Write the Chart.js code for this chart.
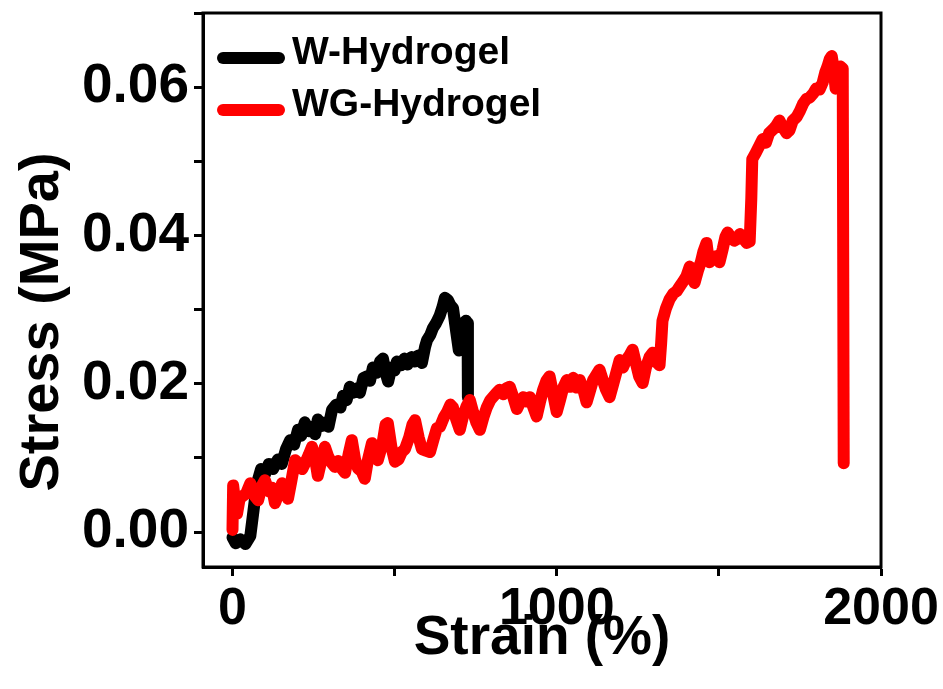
<!DOCTYPE html>
<html>
<head>
<meta charset="utf-8">
<script src="https://cdn.jsdelivr.net/npm/chart.js@4.4.1/dist/chart.umd.min.js"></script>
<style>
  body { margin: 0; background: #fff; }
</style>
</head>
<body>
<canvas id="chart" width="943" height="689"></canvas>
<script>
// W-Hydrogel (black)
const wStrain = [0, 10, 25, 40, 55, 65, 75, 88, 100, 112, 125, 140, 152, 165, 178, 190, 202, 212, 223, 235, 245, 255, 263, 275, 285, 296, 307, 320, 333, 341, 352, 362, 372, 385, 393, 404, 414, 424, 433, 445, 455, 464, 472, 480, 490, 500, 507, 520, 530, 540, 552, 562, 572, 584, 594, 600, 610, 618, 628, 639, 648, 655, 664, 672, 680, 690, 698, 705, 712, 720, 725, 726]
const wStress = [-0.0007, -0.0015, -0.001, -0.0016, -0.0005, 0.003, 0.0065, 0.0085, 0.0078, 0.0092, 0.0085, 0.0098, 0.0092, 0.0112, 0.0124, 0.0118, 0.0138, 0.013, 0.0148, 0.0136, 0.0142, 0.0132, 0.0152, 0.0143, 0.0148, 0.0142, 0.0165, 0.0172, 0.0168, 0.0184, 0.0178, 0.0196, 0.0188, 0.0194, 0.0188, 0.0208, 0.021, 0.0204, 0.0222, 0.0215, 0.023, 0.0234, 0.0215, 0.0203, 0.0222, 0.0218, 0.023, 0.0225, 0.0234, 0.0226, 0.0236, 0.023, 0.0238, 0.0228, 0.025, 0.0259, 0.0266, 0.0275, 0.0282, 0.0292, 0.0304, 0.0316, 0.0313, 0.0306, 0.0302, 0.027, 0.0245, 0.026, 0.0282, 0.0285, 0.0282, 0.0182]

// WG-Hydrogel (red)
const wgStrain = [0, 2, 8, 14, 22, 30, 42, 55, 66, 79, 90, 100, 112, 122, 131, 142, 153, 162, 171, 182, 193, 205, 215, 223, 235, 245, 255, 263, 275, 285, 295, 305, 316, 326, 336, 347, 358, 368, 378, 387, 398, 408, 418, 430, 440, 448, 462, 472, 479, 490, 501, 512, 522, 532, 545, 555, 563, 574, 584, 596, 609, 620, 630, 640, 652, 662, 672, 680, 690, 701, 712, 722, 732, 742, 752, 763, 774, 784, 795, 805, 815, 824, 835, 845, 855, 866, 877, 887, 897, 907, 917, 928, 938, 948, 958, 968, 978, 988, 1000, 1010, 1020, 1031, 1041, 1051, 1061, 1071, 1082, 1092, 1102, 1112, 1122, 1132, 1142, 1152, 1163, 1173, 1183, 1194, 1204, 1214, 1224, 1234, 1244, 1254, 1265, 1275, 1286, 1296, 1306, 1317, 1322, 1326, 1337, 1348, 1360, 1370, 1379, 1390, 1400, 1410, 1418, 1425, 1435, 1445, 1452, 1462, 1467, 1471, 1480, 1490, 1502, 1512, 1520, 1527, 1537, 1547, 1555, 1565, 1575, 1586, 1595, 1600, 1603, 1612, 1626, 1635, 1645, 1655, 1667, 1677, 1687, 1697, 1709, 1718, 1728, 1740, 1750, 1760, 1770, 1780, 1792, 1800, 1811, 1820, 1828, 1835, 1842, 1848, 1854, 1860, 1866, 1874, 1882, 1885]
const wgStress = [0.0003, 0.0063, 0.004, 0.0025, 0.0045, 0.0048, 0.0052, 0.0066, 0.005, 0.0043, 0.0062, 0.007, 0.0055, 0.006, 0.0039, 0.0052, 0.0066, 0.0055, 0.0045, 0.007, 0.0097, 0.0092, 0.0085, 0.0092, 0.0104, 0.0115, 0.0098, 0.0076, 0.0098, 0.0115, 0.0102, 0.0094, 0.0088, 0.0096, 0.0086, 0.008, 0.0105, 0.0124, 0.0098, 0.0086, 0.0082, 0.0072, 0.0098, 0.012, 0.0104, 0.0097, 0.0118, 0.0145, 0.0147, 0.0115, 0.0095, 0.0098, 0.0108, 0.0112, 0.0128, 0.0145, 0.0151, 0.0128, 0.0112, 0.011, 0.0108, 0.0125, 0.014, 0.0142, 0.0155, 0.0162, 0.0172, 0.0168, 0.0152, 0.0138, 0.0158, 0.017, 0.0178, 0.0162, 0.0148, 0.0138, 0.0155, 0.0168, 0.0178, 0.0183, 0.0188, 0.0192, 0.0186, 0.0194, 0.0196, 0.0182, 0.0166, 0.0175, 0.0182, 0.0176, 0.0182, 0.0168, 0.0156, 0.0175, 0.0192, 0.0204, 0.021, 0.0188, 0.0162, 0.0178, 0.0195, 0.0205, 0.0196, 0.0208, 0.0195, 0.0205, 0.0192, 0.0175, 0.019, 0.0205, 0.0212, 0.0219, 0.0205, 0.0192, 0.0182, 0.0198, 0.0214, 0.0232, 0.0222, 0.0232, 0.0238, 0.0246, 0.0228, 0.021, 0.0201, 0.0222, 0.0236, 0.0242, 0.023, 0.0225, 0.0255, 0.0285, 0.0302, 0.0314, 0.0322, 0.0325, 0.0331, 0.0338, 0.0345, 0.0358, 0.0345, 0.0336, 0.0352, 0.0365, 0.0378, 0.039, 0.0372, 0.0364, 0.0368, 0.0372, 0.0364, 0.0382, 0.0398, 0.0404, 0.0397, 0.0393, 0.0395, 0.0402, 0.0396, 0.039, 0.0392, 0.045, 0.0503, 0.051, 0.0522, 0.053, 0.0525, 0.0538, 0.0543, 0.0548, 0.0555, 0.0546, 0.0538, 0.0542, 0.0555, 0.056, 0.0568, 0.0578, 0.0584, 0.0586, 0.0592, 0.0598, 0.0597, 0.0606, 0.062, 0.0628, 0.0638, 0.0642, 0.0625, 0.0598, 0.0612, 0.0628, 0.0625, 0.0093]

const xTicks = [0, 500, 1000, 1500, 2000]
const xLabels = ['0', '', '1000', '', '2000']
const yTicks = [0, 0.01, 0.02, 0.03, 0.04, 0.05, 0.06, 0.07]
const yLabels = ['0.00', '', '0.02', '', '0.04', '', '0.06', '']

const seriesNames = ['W-Hydrogel', 'WG-Hydrogel']
const seriesColors = ['#000000', '#ff0000']
const yTitle = 'Stress (MPa)'

const FONT = "'Liberation Sans', Arial, sans-serif"

function toPoints(xs, ys) {
  return xs.map((x, i) => ({ x: x, y: ys[i] }))
}

// frame round the plot area
const framePlugin = {
  id: 'frame',
  afterDatasetsDraw(chart) {
    const a = chart.chartArea
    const c = chart.ctx
    c.save()
    c.strokeStyle = '#000'
    c.lineWidth = 3
    c.strokeRect(a.left, a.top, a.right - a.left, a.bottom - a.top)
    c.restore()
  }
}

// legend inside the plot, top left + rotated y title (sits a bit below centre)
const extras = {
  id: 'extras',
  afterDraw(chart) {
    const c = chart.ctx
    c.save()
    chart.data.datasets.forEach((ds, i) => {
      const y = 58 + i * 52
      c.strokeStyle = ds.borderColor
      c.lineWidth = 12
      c.lineCap = 'round'
      c.beginPath()
      c.moveTo(223, y)
      c.lineTo(279, y)
      c.stroke()
      c.fillStyle = '#000'
      c.font = 'bold 39px ' + FONT
      c.textBaseline = 'middle'
      c.fillText(ds.label, 292, y - 5)
    })
    c.translate(58, 322)
    c.rotate(-Math.PI / 2)
    c.font = 'bold 56px ' + FONT
    c.textAlign = 'center'
    c.textBaseline = 'alphabetic'
    c.fillStyle = '#000'
    c.fillText(yTitle, 0, 0)
    c.restore()
  }
}

const ctx = document.getElementById('chart').getContext('2d')

new Chart(ctx, {
  type: 'line',
  data: {
    datasets: [
      {
        label: seriesNames[0],
        data: toPoints(wStrain, wStress),
        borderColor: seriesColors[0],
        order: 1
      },
      {
        label: seriesNames[1],
        data: toPoints(wgStrain, wgStress),
        borderColor: seriesColors[1],
        order: 0
      }
    ]
  },
  options: {
    responsive: false,
    animation: false,
    layout: { padding: { top: 13, right: 62, left: 0, bottom: 0 } },
    elements: {
      point: { radius: 0 },
      line: { borderWidth: 12, tension: 0, borderJoinStyle: 'round', borderCapStyle: 'round' }
    },
    plugins: {
      legend: { display: false },
      tooltip: { enabled: false }
    },
    scales: {
      x: {
        type: 'linear',
        min: -91,
        max: 2000,
        afterBuildTicks: (axis) => { axis.ticks = xTicks.map(v => ({ value: v })) },
        afterFit: (axis) => { axis.height = 122; axis.paddingLeft = 0; axis.paddingRight = 0 },
        grid: { drawOnChartArea: false, tickLength: 9, tickWidth: 3, tickColor: '#000' },
        border: { display: true, width: 3, color: '#000' },
        ticks: {
          autoSkip: false,
          maxRotation: 0,
          padding: 2,
          color: '#000',
          font: { family: FONT, size: 52, weight: 'bold' },
          callback: (v, i) => xLabels[i]
        },
        title: {
          display: true,
          text: 'Strain (%)',
          color: '#000',
          font: { family: FONT, size: 55, weight: 'bold' },
          padding: { top: 0, bottom: 17 }
        }
      },
      y: {
        type: 'linear',
        min: -0.0047,
        max: 0.07,
        afterBuildTicks: (axis) => { axis.ticks = yTicks.map(v => ({ value: v })) },
        afterFit: (axis) => { axis.width = 203; axis.paddingTop = 0; axis.paddingBottom = 0 },
        grid: { drawOnChartArea: false, tickLength: 9, tickWidth: 3, tickColor: '#000' },
        border: { display: true, width: 3, color: '#000' },
        ticks: {
          autoSkip: false,
          padding: 5,
          color: '#000',
          font: { family: FONT, size: 55, weight: 'bold' },
          callback: (v, i) => yLabels[i]
        },
        title: { display: false }
      }
    }
  },
  plugins: [framePlugin, extras]
})
</script>
</body>
</html>
